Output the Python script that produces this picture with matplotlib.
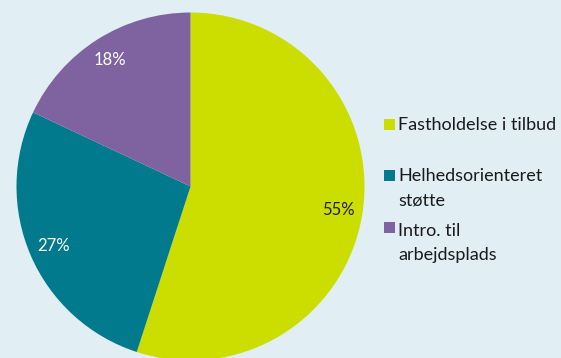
import matplotlib
matplotlib.use("Agg")
import matplotlib.pyplot as plt
from matplotlib.patches import Rectangle

categories = ["Fastholdelse i tilbud", "Helhedsorienteret\nstøtte", "Intro. til\narbejdsplads"]
values = [55, 27, 18]
colors = ["#CCDD00", "#007A8C", "#7F63A1"]
label_colors = ["#222222", "white", "white"]

plt.rcParams['font.family'] = ['Lato', 'DejaVu Sans']
bg = "#E1EFF4"
W, H = 561, 358
fig = plt.figure(figsize=(W/100, H/100), dpi=100, facecolor=bg)

cx, cy, r = 190.5, 186.5, 174
ax = fig.add_axes([(cx - r)/W, (H - cy - r)/H, 2*r/W, 2*r/H])
ax.set_facecolor(bg)
wedges, texts, autotexts = ax.pie(values, colors=colors, startangle=90, counterclock=False,
                                   autopct=lambda p: f"{p:.0f}%", pctdistance=0.86,
                                   radius=1, wedgeprops=dict(linewidth=0))
for t, c in zip(autotexts, label_colors):
    t.set_color(c)
    t.set_fontsize(12)
ax.set_xlim(-1, 1)
ax.set_ylim(-1, 1)
ax.axis("off")

# legend
square_y = [125, 176, 228]
text_top = [117, 168, 223]
for lab, col, y, ty in zip(categories, colors, square_y, text_top):
    fig.patches.append(Rectangle((384/W, 1 - (y + 5)/H), 11/W, 11/H, transform=fig.transFigure,
                                 facecolor=col, edgecolor="none"))
    fig.text(398/W, 1 - ty/H, lab, fontsize=13, va="top", ha="left",
             color="#1a1a1a", linespacing=1.62)

fig.savefig("out.png", dpi=100, facecolor=bg)
